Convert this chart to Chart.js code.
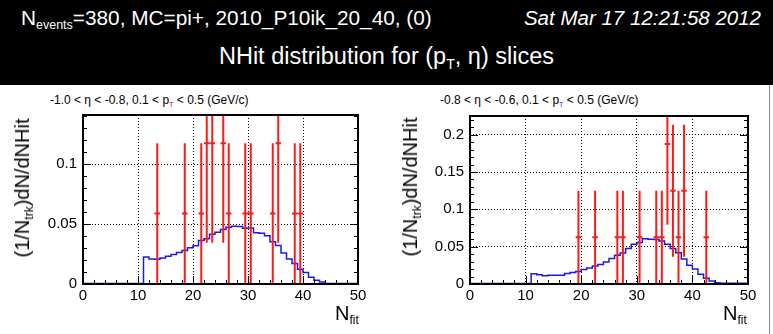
<!DOCTYPE html>
<html>
<head>
<meta charset="utf-8">
<script src="https://cdn.jsdelivr.net/npm/chart.js@4.4.1/dist/chart.umd.min.js"></script>
<style>
  body { margin: 0; width: 773px; height: 334px; background: #fff; position: relative; overflow: hidden;
         font-family: "Liberation Sans", Arial, Helvetica, sans-serif; }
  #head { position: absolute; left: 0; top: 0; width: 773px; height: 85px; background: #000; color: #fff; }
  .t { position: absolute; white-space: nowrap; line-height: 1; }
  .s { font-size: 0.6em; position: relative; top: 0.35em; }
  .box { position: absolute; top: 85px; height: 249px; }
  .ytitle { position: absolute; white-space: nowrap; font-size: 20px; line-height: 1;
            transform: translate(-50%, -50%) rotate(-90deg); }
  .xtitle { position: absolute; white-space: nowrap; font-size: 20px; line-height: 1; }
  .ptitle { position: absolute; white-space: nowrap; font-size: 12px; line-height: 1; }
  #edge { position: absolute; left: 769px; top: 85px; width: 1px; height: 249px; background: #888; }
</style>
</head>
<body>
<div id="head">
  <div class="t" style="left:21px;top:8px;font-size:20.8px">N<span class="s">events</span>=380, MC=pi+, 2010_P10ik_20_40, (0)</div>
  <div class="t" style="right:12px;top:8px;font-size:20.5px;font-style:italic">Sat Mar 17 12:21:58 2012</div>
  <div class="t" style="left:0;width:773px;text-align:center;top:45px;font-size:23.5px">NHit distribution for (p<span class="s">T</span>, η) slices</div>
</div>

<div class="ptitle" style="left:50px;top:94px">-1.0 &lt; η &lt; -0.8, 0.1 &lt; p<span class="s" style="color:#c00">T</span> &lt; 0.5 (GeV/c)</div>
<div class="ptitle" style="left:440px;top:94px">-0.8 &lt; η &lt; -0.6, 0.1 &lt; p<span class="s" style="color:#33c">T</span> &lt; 0.5 (GeV/c)</div>

<div class="box" style="left:0;width:390px"><canvas id="cl"></canvas></div>
<div class="box" style="left:390px;width:383px"><canvas id="cr"></canvas></div>

<div class="ytitle" style="left:22px;top:188px">(1/N<span class="s">trk</span>)dN/dNHit</div>
<div class="ytitle" style="left:410px;top:187px">(1/N<span class="s">trk</span>)dN/dNHit</div>
<div class="xtitle" style="left:335px;top:303px">N<span class="s">fit</span></div>
<div class="xtitle" style="left:723px;top:303px">N<span class="s">fit</span></div>
<div id="edge"></div>

<script>
// tick labels
const xTicks = [0, 10, 20, 30, 40, 50];
const yTicksLeft = [0, 0.05, 0.1];
const yTicksRight = [0, 0.05, 0.1, 0.15, 0.2];

// MC histograms, one value per unit bin from 0 to 50
const histLeft = [
  0.0004, 0.0004, 0.0004, 0.0004, 0.0004, 0.0004, 0.0004, 0.0004, 0.0004, 0.0004,
  0.0004, 0.0226, 0.0209, 0.0206, 0.0218, 0.0232, 0.0246, 0.0263, 0.0280, 0.0302,
  0.0319, 0.0364, 0.0378, 0.0415, 0.0432, 0.0455, 0.0475, 0.0483, 0.0481, 0.0466,
  0.0468, 0.0429, 0.0424, 0.0404, 0.0353, 0.0322, 0.0260, 0.0209, 0.0172, 0.0124,
  0.0096, 0.0056, 0.0031, 0.0017, 0.0004, 0.0004, 0.0004, 0.0004, 0.0004, 0.0004
];
const histRight = [
  0.0008, 0.0008, 0.0008, 0.0008, 0.0008, 0.0008, 0.0008, 0.0008, 0.0008, 0.0008,
  0.0008, 0.0136, 0.0123, 0.0109, 0.0118, 0.0118, 0.0118, 0.0140, 0.0155, 0.0168,
  0.0195, 0.0214, 0.0240, 0.0260, 0.0295, 0.0340, 0.0386, 0.0414, 0.0477, 0.0532,
  0.0555, 0.0605, 0.0600, 0.0595, 0.0577, 0.0532, 0.0477, 0.0418, 0.0336, 0.0250,
  0.0200, 0.0132, 0.0077, 0.0041, 0.0018, 0.0009, 0.0009, 0.0009, 0.0009, 0.0009
];

// data points with errors
const ptsLeftX = [13.5, 18.5, 21.5, 22.5, 23.5, 25.5, 26.5, 29.5, 30.5, 34.5, 35.5, 38.5, 39.5];
const ptsLeftY = [0.0588, 0.0588, 0.0588, 0.1176, 0.1176, 0.1176, 0.0588, 0.0588, 0.0588, 0.0588, 0.1176, 0.0588, 0.0588];
const errLeftY = [0.0588, 0.0588, 0.0588, 0.0832, 0.0832, 0.0832, 0.0588, 0.0588, 0.0588, 0.0588, 0.0832, 0.0588, 0.0588];

const ptsRightX = [19.5, 22.5, 26.5, 27.5, 30.5, 33.5, 34.5, 35.5, 36.5, 37.5, 38.5, 42.5];
const ptsRightY = [0.0625, 0.0625, 0.0625, 0.0625, 0.0625, 0.0625, 0.0625, 0.1875, 0.125, 0.0625, 0.125, 0.0625];
const errRightY = [0.0625, 0.0625, 0.0625, 0.0625, 0.0625, 0.0625, 0.0625, 0.1083, 0.0884, 0.0625, 0.0884, 0.0625];
const errX = 0.5;

const decor = {
  id: "decor",
  afterDatasetsDraw(chart) {
    const { ctx, chartArea: a, scales: { x, y } } = chart;
    chart.data.datasets.forEach((ds) => {
      if (!ds.errY) return;
      ctx.save();
      ctx.beginPath();
      ctx.rect(a.left, a.top, a.right - a.left, a.bottom - a.top);
      ctx.clip();
      ctx.strokeStyle = ds.borderColor;
      ctx.lineWidth = 2;
      ds.data.forEach((p, i) => {
        const px = x.getPixelForValue(p.x);
        const py = y.getPixelForValue(p.y);
        ctx.beginPath();
        ctx.moveTo(px, y.getPixelForValue(p.y - ds.errY[i]));
        ctx.lineTo(px, y.getPixelForValue(p.y + ds.errY[i]));
        ctx.moveTo(x.getPixelForValue(p.x - ds.errX), py);
        ctx.lineTo(x.getPixelForValue(p.x + ds.errX), py);
        ctx.stroke();
      });
      ctx.restore();
    });
  },
  afterDraw(chart) {
    const { ctx, chartArea: a, scales: { x, y } } = chart;
    ctx.save();
    ctx.strokeStyle = "#000";
    ctx.lineWidth = 1;
    ctx.beginPath();
    // y ticks left and right, minor every 0.01
    for (let k = 0; k * 0.01 <= y.max + 1e-9; k++) {
      const py = Math.round(y.getPixelForValue(k * 0.01)) + 0.5;
      const len = k % 5 === 0 ? 8 : 4;
      ctx.moveTo(a.left, py); ctx.lineTo(a.left + len, py);
      ctx.moveTo(a.right, py); ctx.lineTo(a.right - len, py);
    }
    // x ticks at bottom, minor every 2
    for (let v = 0; v <= 50; v += 2) {
      const px = Math.round(x.getPixelForValue(v)) + 0.5;
      const len = v % 10 === 0 ? 8 : 4;
      ctx.moveTo(px, a.bottom); ctx.lineTo(px, a.bottom - len);
    }
    ctx.stroke();
    ctx.lineWidth = 2;
    ctx.strokeRect(a.left, a.top, a.right - a.left, a.bottom - a.top);
    ctx.restore();
  }
};

function makeChart(id, hist, px, py, pe, yMax, yTicks, axisW, padRight, padTop) {
  // points at left bin edges plus the closing edge
  const histData = hist.map((v, i) => ({ x: i, y: v }));
  histData.push({ x: hist.length, y: hist[hist.length - 1] });
  const font = { family: "'Liberation Sans', Arial, sans-serif", size: 15 };
  new Chart(document.getElementById(id).getContext("2d"), {
    type: "line",
    data: {
      datasets: [
        {
          data: histData,
          borderColor: "#1a1ae6",
          borderWidth: 1.5,
          pointRadius: 0,
          stepped: "before",
          fill: false,
        },
        {
          type: "scatter",
          data: px.map((v, i) => ({ x: v, y: py[i] })),
          errY: pe,
          errX: errX,
          borderColor: "#ff1a1a",
          pointRadius: 0,
          showLine: false,
        },
      ],
    },
    options: {
      responsive: true,
      maintainAspectRatio: false,
      animation: false,
      events: [],
      layout: { padding: { left: 0, right: padRight, top: padTop, bottom: 0 } },
      plugins: { legend: { display: false }, tooltip: { enabled: false } },
      scales: {
        x: {
          type: "linear",
          min: 0,
          max: 50,
          afterBuildTicks: (s) => { s.ticks = xTicks.map((v) => ({ value: v })); },
          afterFit: (s) => { s.height = 50; },
          ticks: { font, color: "#000", padding: 3, maxRotation: 0, callback: (v) => String(v) },
          grid: {
            drawTicks: false,
            color: (c) => (c.tick && c.tick.value > 0 && c.tick.value < 50 ? "#000" : "rgba(0,0,0,0)"),
            lineWidth: 1,
          },
          border: { display: false, dash: [1, 2] },
        },
        y: {
          type: "linear",
          min: 0,
          max: yMax,
          afterBuildTicks: (s) => { s.ticks = yTicks.map((v) => ({ value: v })); },
          afterFit: (s) => { s.width = axisW; },
          ticks: { font, color: "#000", padding: 6, callback: (v) => String(+v.toFixed(2)) },
          grid: {
            drawTicks: false,
            color: (c) => (c.tick && c.tick.value > 0 ? "#000" : "rgba(0,0,0,0)"),
            lineWidth: 1,
          },
          border: { display: false, dash: [1, 2] },
        },
      },
    },
    plugins: [decor],
  });
}

makeChart("cl", histLeft, ptsLeftX, ptsLeftY, errLeftY, 0.1412, yTicksLeft, 83, 32, 30);
makeChart("cr", histRight, ptsRightX, ptsRightY, errRightY, 0.225, yTicksRight, 80, 25, 31);
</script>
</body>
</html>
